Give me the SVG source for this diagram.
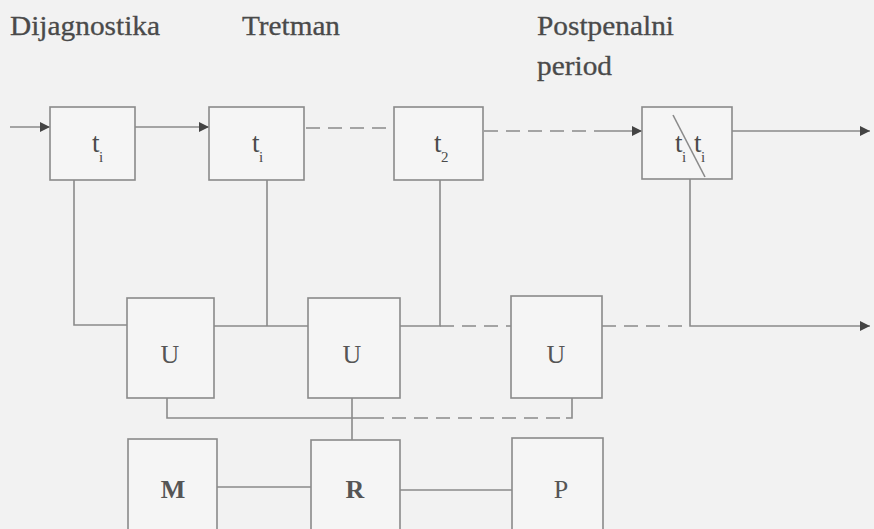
<svg xmlns="http://www.w3.org/2000/svg" width="874" height="529" viewBox="0 0 874 529">
<defs>
<marker id="ah" viewBox="0 0 10 10" refX="10" refY="5" markerWidth="10" markerHeight="10" markerUnits="userSpaceOnUse" orient="auto">
<path d="M0,0 L10,5 L0,10 z" fill="#444"/>
</marker>
</defs>
<style>
.box{fill:#f5f5f5;stroke:#8a8a8a;stroke-width:1.6}
.ln{fill:none;stroke:#8a8a8a;stroke-width:1.6}
.dash{fill:none;stroke:#8a8a8a;stroke-width:1.6;stroke-dasharray:14,8}
.hd{font-family:"Liberation Serif",serif;font-size:27px;fill:#4a4a4a;stroke:#4a4a4a;stroke-width:0.3}
.t{font-family:"Liberation Serif",serif;font-size:27px;fill:#4a4a4a}
.s{font-family:"Liberation Serif",serif;font-size:15px;fill:#4a4a4a}
.L{font-family:"Liberation Serif",serif;font-size:26px;fill:#555;text-anchor:middle}
</style>
<rect width="874" height="529" fill="#f2f2f2"/>
<g id="headings">
<text class="hd" x="10" y="35" textLength="150" lengthAdjust="spacingAndGlyphs">Dijagnostika</text>
<text class="hd" x="242" y="35" textLength="98" lengthAdjust="spacingAndGlyphs">Tretman</text>
<text class="hd" x="537" y="35" textLength="137" lengthAdjust="spacingAndGlyphs">Postpenalni</text>
<text class="hd" x="537" y="75" textLength="75" lengthAdjust="spacingAndGlyphs">period</text>
</g>
<g id="connectors">
<line class="ln" x1="10" y1="127" x2="50" y2="127" marker-end="url(#ah)"/>
<line class="ln" x1="135" y1="127" x2="209" y2="127" marker-end="url(#ah)"/>
<line class="dash" x1="304" y1="128" x2="394" y2="128" stroke-dasharray="10,8" stroke-dashoffset="-2"/>
<path class="dash" d="M484,131 H600"/>
<line class="ln" x1="600" y1="131" x2="642" y2="131" marker-end="url(#ah)"/>
<line class="ln" x1="732" y1="131" x2="870" y2="131" marker-end="url(#ah)"/>
<path class="ln" d="M74,180 V325 H127"/>
<path class="ln" d="M267,180 V326"/>
<line class="ln" x1="214" y1="326" x2="308" y2="326"/>
<path class="ln" d="M400,326 H440 V180"/>
<line class="dash" x1="440" y1="326" x2="511" y2="326"/>
<line class="dash" x1="602" y1="326" x2="690" y2="326"/>
<path class="ln" d="M690,179 V326 H870" marker-end="url(#ah)"/>
<path class="ln" d="M167,398 V418 H370"/>
<line class="ln" x1="352" y1="398" x2="352" y2="440"/>
<line class="dash" x1="370" y1="418" x2="566" y2="418" stroke-dasharray="14,9"/>
<path class="ln" d="M566,418 H572 V398"/>
<line class="ln" x1="217" y1="487" x2="311" y2="487"/>
<line class="ln" x1="400" y1="490" x2="512" y2="490"/>
</g>
<g id="n1"><rect class="box" x="50" y="107" width="85" height="73"/><text class="t" x="92" y="152">t</text><text class="s" x="99" y="162">i</text></g>
<g id="n2"><rect class="box" x="209" y="107" width="95" height="73"/><text class="t" x="252" y="152">t</text><text class="s" x="259" y="162">i</text></g>
<g id="n3"><rect class="box" x="394" y="107" width="89" height="73"/><text class="t" x="434" y="152">t</text><text class="s" x="441" y="162">2</text></g>
<g id="n4"><rect class="box" x="642" y="107" width="90" height="72"/><line class="ln" x1="673" y1="115" x2="705" y2="177"/><text class="t" x="675" y="152">t</text><text class="s" x="682" y="162">i</text><text class="t" x="694" y="152">t</text><text class="s" x="701" y="162">i</text></g>
<g id="u1"><rect class="box" x="127" y="298" width="87" height="100"/><text class="L" x="170" y="363">U</text></g>
<g id="u2"><rect class="box" x="308" y="298" width="92" height="100"/><text class="L" x="352" y="363">U</text></g>
<g id="u3"><rect class="box" x="511" y="296" width="91" height="102"/><text class="L" x="556" y="363">U</text></g>
<g id="m"><rect class="box" x="128" y="439" width="89" height="100"/><text class="L" x="173" y="498" font-weight="bold">M</text></g>
<g id="r"><rect class="box" x="311" y="440" width="89" height="100"/><text class="L" x="355" y="498" font-weight="bold">R</text></g>
<g id="p"><rect class="box" x="512" y="438" width="91" height="100"/><text class="L" x="561" y="498">P</text></g>
</svg>
